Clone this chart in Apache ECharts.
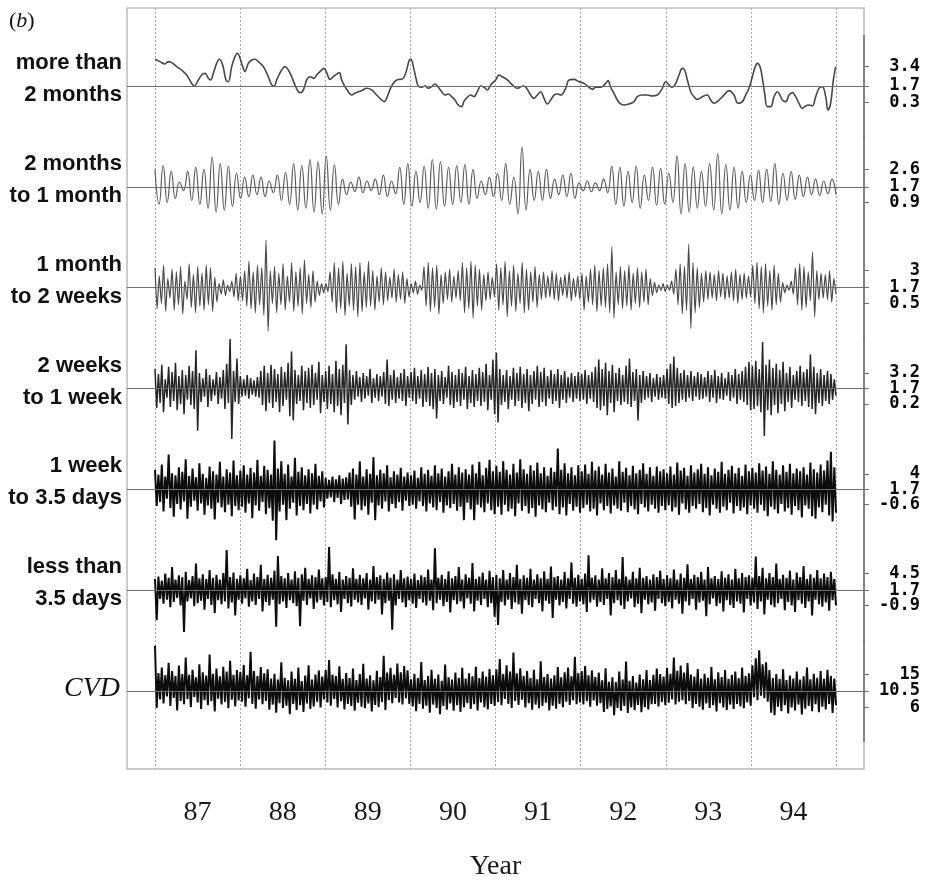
<!DOCTYPE html>
<html><head><meta charset="utf-8">
<script src="https://cdn.jsdelivr.net/npm/echarts@6/dist/echarts.min.js"></script>
<style>html,body{margin:0;padding:0;background:#fff}#c{width:928px;height:880px}</style>
</head><body><div id="c"></div>
<script>
// ---------- data ----------
const yearLabels = ['87','88','89','90','91','92','93','94'];
const panelNames = [['more than','2 months'],['2 months','to 1 month'],['1 month','to 2 weeks'],['2 weeks','to 1 week'],['1 week','to 3.5 days'],['less than','3.5 days'],['CVD']];
const tickHi  = [3.4, 2.6, 3, 3.2, 4, 4.5, 15];
const tickMid = [1.7, 1.7, 1.7, 1.7, 1.7, 1.7, 10.5];
const tickLo  = [0.3, 0.9, 0.5, 0.2, -0.6, -0.9, 6];
const yMin = [-2.645, -0.898, -2.118, -3.193, -5.822, -6.842, -3.23];
const yMax = [6.045, 4.298, 5.518, 6.593, 9.222, 10.242, 24.23];

// more than 2 months: [year, value]
const p1 = [[1987.000,4.00],[1987.059,3.80],[1987.117,3.60],[1987.157,3.80],[1987.196,3.71],[1987.255,3.37],[1987.313,3.08],[1987.372,2.65],[1987.431,1.93],[1987.462,1.70],[1987.509,2.22],[1987.548,2.65],[1987.587,2.79],[1987.627,2.36],[1987.654,2.22],[1987.685,2.79],[1987.724,3.65],[1987.756,4.00],[1987.795,3.51],[1987.834,2.22],[1987.861,2.07],[1987.901,3.37],[1987.940,4.23],[1987.967,4.52],[1987.999,4.09],[1988.030,3.37],[1988.057,2.94],[1988.096,3.65],[1988.136,3.94],[1988.175,4.00],[1988.214,3.80],[1988.273,3.37],[1988.331,2.50],[1988.371,1.79],[1988.398,1.70],[1988.437,2.36],[1988.488,3.08],[1988.527,3.37],[1988.566,3.08],[1988.605,2.50],[1988.645,1.79],[1988.684,1.21],[1988.715,1.13],[1988.750,1.50],[1988.782,2.22],[1988.821,2.50],[1988.868,2.36],[1988.899,2.65],[1988.938,2.94],[1988.958,3.08],[1988.985,3.22],[1989.017,2.85],[1989.056,2.27],[1989.095,2.50],[1989.134,2.73],[1989.165,2.85],[1989.193,2.22],[1989.232,1.64],[1989.271,1.21],[1989.310,0.92],[1989.349,1.07],[1989.389,1.21],[1989.428,1.30],[1989.487,1.50],[1989.545,1.36],[1989.604,0.92],[1989.663,0.49],[1989.694,0.35],[1989.721,0.64],[1989.761,1.41],[1989.800,1.93],[1989.839,2.22],[1989.878,2.27],[1989.917,2.36],[1989.956,3.08],[1989.988,3.94],[1990.007,4.00],[1990.035,3.37],[1990.066,2.36],[1990.093,1.70],[1990.133,1.59],[1990.172,1.70],[1990.211,1.50],[1990.250,1.64],[1990.289,1.87],[1990.328,1.59],[1990.368,1.21],[1990.407,0.92],[1990.446,1.01],[1990.485,0.78],[1990.524,0.49],[1990.563,0.06],[1990.603,-0.08],[1990.630,0.40],[1990.669,0.72],[1990.708,0.92],[1990.747,0.78],[1990.787,1.21],[1990.826,1.70],[1990.865,1.59],[1990.904,1.36],[1990.943,1.79],[1991.002,2.22],[1991.041,2.65],[1991.080,2.50],[1991.139,2.22],[1991.198,1.79],[1991.257,1.50],[1991.296,1.64],[1991.335,1.70],[1991.374,1.41],[1991.413,0.92],[1991.452,0.64],[1991.491,0.92],[1991.531,1.21],[1991.570,0.64],[1991.609,0.15],[1991.648,0.49],[1991.687,0.92],[1991.726,1.01],[1991.766,0.92],[1991.824,1.50],[1991.863,2.22],[1991.922,2.27],[1991.981,2.07],[1992.040,1.93],[1992.098,1.59],[1992.138,1.41],[1992.177,1.59],[1992.235,1.59],[1992.294,1.93],[1992.322,2.16],[1992.353,1.59],[1992.392,1.07],[1992.431,0.49],[1992.470,0.15],[1992.510,0.06],[1992.568,0.15],[1992.627,0.35],[1992.666,0.78],[1992.725,0.92],[1992.784,0.92],[1992.842,0.84],[1992.901,0.92],[1992.960,1.50],[1992.999,2.07],[1993.038,1.79],[1993.077,1.59],[1993.117,1.93],[1993.156,2.65],[1993.195,3.22],[1993.222,3.08],[1993.254,2.22],[1993.293,1.21],[1993.332,0.78],[1993.371,0.55],[1993.430,0.78],[1993.489,0.92],[1993.528,0.49],[1993.567,0.21],[1993.626,0.49],[1993.684,0.92],[1993.743,1.30],[1993.802,0.92],[1993.849,0.21],[1993.900,0.35],[1993.939,0.92],[1993.978,1.50],[1994.017,2.50],[1994.045,3.22],[1994.076,3.65],[1994.107,3.37],[1994.135,2.36],[1994.162,1.07],[1994.193,-0.08],[1994.233,-0.08],[1994.272,0.78],[1994.311,1.21],[1994.342,0.92],[1994.370,0.49],[1994.409,0.35],[1994.448,0.92],[1994.487,1.13],[1994.526,0.78],[1994.565,0.21],[1994.604,-0.23],[1994.643,-0.02],[1994.683,0.06],[1994.722,-0.02],[1994.761,0.78],[1994.800,1.50],[1994.839,1.64],[1994.879,0.78],[1994.906,-0.37],[1994.937,0.21],[1994.969,2.22],[1994.996,3.37]];

// 2 months to 1 month (evenly spaced in time)
const p2 = [2.6,0.8,2.8,0.9,2.5,1.1,1.95,1.5,2.5,1.0,2.7,0.8,2.6,0.6,3.25,0.4,2.9,0.5,2.75,0.7,2.4,1.1,2.2,1.2,2.3,1.3,2.2,1.2,2.0,1.4,2.3,1.0,2.45,0.8,2.9,0.5,2.8,0.6,3.1,0.4,3.0,0.3,3.3,0.5,2.85,0.8,2.1,1.3,1.95,1.45,2.2,1.4,2.0,1.5,2.1,1.3,2.3,1.2,2.0,1.35,2.7,0.8,2.9,0.7,2.5,0.9,2.75,0.6,3.1,0.55,3.0,0.7,2.7,0.8,
2.8,0.9,2.85,0.8,2.6,1.1,2.0,1.3,2.2,1.2,2.4,1.0,2.9,0.8,2.2,0.3,3.75,0.5,2.6,1.0,2.5,1.0,2.6,1.1,2.1,1.3,2.3,1.2,2.4,1.1,1.9,1.5,2.0,1.45,1.9,1.5,2.1,1.4,2.75,0.8,2.7,0.7,2.5,0.9,2.75,0.6,2.3,1.0,2.7,0.75,2.65,0.8,2.4,0.9,3.3,0.3,2.9,0.4,2.7,0.6,2.5,0.7,2.9,0.5,3.4,0.3,2.85,0.5,2.7,0.6,2.5,0.9,2.3,1.0,2.55,0.9,2.6,0.95,2.9,0.8,2.4,1.0,2.5,1.05,2.3,1.2,2.2,1.3,2.1,1.25,2.0,1.35,2.1,1.3];

// 1 month to 2 weeks
const p3 = [3.2,0.1,2.6,0.5,3.4,-0.1,2.4,0.9,3.1,0.0,2.9,0.4,3.3,-0.3,2.2,0.8,3.5,0.2,2.7,-0.2,3.3,0.3,2.8,0.0,3.4,0.4,3.2,-0.1,2.5,0.6,2.0,1.2,2.3,1.1,1.9,1.4,2.2,1.0,2.8,0.7,
2.6,0.7,3.0,0.3,3.7,0.1,2.9,-0.2,3.4,0.4,3.2,-0.4,5.3,-1.6,3.0,0.5,3.3,-0.2,2.8,0.4,3.5,0.0,2.6,0.6,3.6,-0.1,2.9,0.3,3.2,-0.3,3.8,0.5,2.7,0.2,3.0,0.6,2.2,1.1,2.0,1.3,
2.0,1.4,2.9,0.6,3.6,-0.2,3.2,0.1,3.7,-0.4,2.8,0.3,3.5,0.0,3.3,-0.5,3.6,-0.1,2.9,0.2,3.7,0.3,3.0,0.0,2.6,0.6,3.2,0.4,2.9,0.7,2.5,0.9,3.1,0.6,2.7,0.8,2.9,0.5,2.4,1.0,
2.0,1.3,2.2,1.2,1.9,1.5,3.3,0.3,3.6,-0.1,3.2,0.2,3.4,-0.3,2.7,0.5,2.9,0.8,3.1,0.6,2.6,0.9,3.0,0.7,3.6,-0.2,3.2,0.1,3.7,-0.6,3.4,0.3,3.1,0.0,2.7,0.7,2.9,0.8,2.5,1.0,
3.5,0.0,3.2,0.4,3.7,-0.5,3.0,0.3,3.4,-0.1,2.8,0.5,3.6,-0.2,3.1,0.0,2.9,0.6,3.3,0.2,2.7,0.8,2.9,0.9,2.6,1.0,3.0,0.8,2.8,0.7,2.5,1.1,2.7,0.9,2.9,0.7,2.4,1.0,2.6,0.8,
2.8,0.0,2.6,0.6,3.1,0.4,3.4,-0.1,3.0,0.3,3.2,0.2,3.5,-0.2,4.8,-0.6,2.9,0.4,3.3,0.1,3.0,0.3,3.4,0.0,2.8,0.5,3.2,0.2,2.9,0.6,3.1,0.4,2.4,1.1,2.1,1.3,1.9,1.5,2.0,1.4,
1.9,1.5,2.2,1.2,3.1,0.4,3.5,-0.3,3.3,0.0,5.0,-1.4,3.6,-0.2,3.2,0.2,2.8,0.6,3.0,0.8,2.9,0.9,2.7,0.7,3.0,1.0,2.8,0.8,2.6,0.9,2.9,0.7,3.1,0.5,2.7,0.8,2.8,0.9,2.6,1.0,
3.4,0.5,3.6,0.1,3.3,-0.2,3.5,0.3,3.0,0.0,3.4,0.4,2.8,0.6,2.1,1.3,1.9,1.5,2.2,1.2,3.2,0.4,3.5,0.0,3.3,0.2,2.9,0.7,4.4,-0.5,3.0,0.8,2.8,0.9,2.7,0.8,3.0,0.6,2.4,1.2];

// 2 weeks to 1 week
const p4 = [3.6,-0.2,3.1,0.3,4.0,-0.6,2.6,0.8,3.8,-0.1,3.3,0.5,4.2,-0.4,2.9,0.2,3.5,-0.8,3.0,0.6,3.9,0.1,3.4,-0.3,5.4,-2.4,3.2,0.4,2.7,0.9,3.6,-0.1,3.0,0.5,2.6,1.0,3.3,0.2,2.8,0.7,3.5,-0.3,4.1,0.3,6.5,-3.2,3.4,0.4,4.6,0.2,
2.9,0.9,2.6,1.0,3.0,0.7,2.7,1.1,2.5,0.9,2.8,0.8,3.4,0.1,3.9,-0.5,3.2,0.3,4.0,-0.2,3.6,0.4,3.1,-0.6,3.8,0.0,3.3,0.6,4.2,-1.0,5.3,-1.4,3.5,0.2,3.0,0.5,3.9,-0.4,3.4,0.3,3.7,-0.2,4.0,0.1,3.2,0.6,4.3,-0.7,3.0,0.4,
3.4,-0.3,3.9,0.2,3.1,-0.6,4.4,0.0,3.6,-0.9,4.0,0.3,6.0,-1.8,3.5,0.1,3.0,0.6,3.4,0.9,2.8,0.4,3.2,0.7,2.9,1.0,3.6,0.3,2.7,0.8,3.1,0.5,2.9,0.9,3.3,0.2,4.5,0.0,3.0,0.6,3.5,0.3,2.8,0.7,3.2,0.5,3.6,0.0,2.9,0.8,
3.3,0.5,3.7,0.2,2.9,0.7,3.5,-0.1,3.1,0.4,3.8,0.0,3.2,-0.3,3.6,-1.2,3.0,0.5,3.4,0.2,2.8,0.8,3.9,0.1,3.3,-0.2,3.0,0.4,3.6,0.0,3.2,0.6,3.8,-0.3,2.9,0.3,3.5,-0.1,3.1,0.5,3.7,0.0,3.3,0.4,4.1,-0.4,3.0,0.6,4.5,-0.8,
5.2,-1.6,3.6,0.1,3.0,0.4,3.5,-0.3,2.9,0.6,3.7,0.0,3.2,0.5,3.8,-0.2,3.1,0.3,3.6,-0.5,3.0,0.2,3.4,0.6,3.9,-0.1,3.3,0.4,3.7,0.0,2.9,0.7,3.5,0.2,3.1,0.5,3.6,-0.2,3.0,0.6,3.4,0.3,2.8,0.8,3.2,0.4,2.9,0.7,3.3,0.5,
3.1,0.6,3.5,0.2,3.0,0.7,3.3,0.4,3.8,-0.2,4.5,-0.4,3.6,0.0,4.2,-0.9,3.4,0.3,4.0,-0.6,3.2,0.5,3.7,0.1,3.0,0.4,3.9,0.2,4.6,-0.1,3.3,0.5,3.6,-1.4,3.0,0.3,3.4,0.6,2.9,0.8,3.2,0.4,2.7,0.9,3.1,0.6,2.8,0.8,3.0,0.7,
3.6,0.2,4.1,-0.2,4.8,0.0,3.7,0.3,3.2,0.6,3.5,0.4,3.0,0.8,3.4,0.5,2.9,0.9,3.3,0.6,3.1,0.7,2.8,0.9,3.4,0.4,3.0,0.8,3.5,0.3,2.9,0.7,3.2,0.6,2.7,1.0,3.3,0.5,3.0,0.8,3.6,0.2,3.1,0.6,3.4,0.4,3.8,0.1,4.3,-0.4,
3.9,-0.3,4.4,0.0,3.6,-0.6,6.2,-2.9,4.0,-0.4,4.5,-0.9,3.7,0.1,4.1,-0.7,3.5,0.2,4.3,-0.5,3.2,0.4,3.8,-0.2,3.0,0.6,3.4,0.4,3.9,0.0,3.3,0.5,3.6,-0.1,5.0,-0.3,3.8,-0.8,3.2,0.3,3.6,0.0,3.0,0.5,3.4,0.2,3.1,0.6,2.6,1.0];

// 1 week to 3.5 days
const p5 = [4.6,-0.8,3.9,-0.2,5.4,-1.6,3.6,0.3,6.9,-1.1,4.1,-2.4,3.8,-0.5,5.0,-1.3,4.3,-0.1,6.2,-2.7,3.7,-0.9,4.8,0.0,3.5,-1.5,5.6,-0.4,4.0,-2.1,3.4,-0.7,5.1,-1.2,4.4,-2.8,3.9,-0.3,5.8,-1.0,3.6,-1.7,4.7,-0.6,4.2,-2.3,6.0,-0.8,3.8,-1.4,
4.5,-0.9,5.3,-1.8,3.9,-0.4,4.9,-2.6,4.2,-0.7,6.1,-1.5,3.7,-0.2,5.2,-2.0,4.6,-1.1,3.9,-3.0,9.0,-5.9,4.8,-1.6,5.9,-0.6,4.0,-2.9,5.4,-1.2,3.6,-0.3,6.4,-2.2,4.3,-0.8,5.0,-1.4,3.8,-0.5,4.7,-1.9,4.1,-0.6,5.5,-1.3,3.7,-0.1,4.4,-1.0,
3.4,0.3,3.1,0.5,3.6,-0.2,3.2,0.4,3.8,-0.5,3.3,0.1,3.5,0.2,4.2,-0.9,4.8,-2.8,3.9,-0.6,5.9,-1.4,3.6,-0.8,4.7,-2.1,4.0,-0.3,6.5,-2.9,3.8,-0.7,4.6,-1.2,4.1,-0.1,5.3,-1.6,3.5,-0.5,4.4,-1.1,3.9,-0.2,4.9,-1.5,3.6,0.0,4.2,-0.8,
3.8,-0.6,4.5,-1.2,3.4,-0.1,5.0,-0.8,4.0,-1.6,4.6,-0.4,3.7,-1.0,5.3,-1.4,4.1,-0.2,4.8,-1.8,3.6,-0.7,4.4,-1.1,5.5,-0.5,3.9,-1.5,5.0,-0.9,4.2,-2.9,4.7,-0.3,3.9,-1.3,5.4,-2.9,4.1,-0.6,5.8,-1.0,3.8,-1.7,4.9,-0.4,6.1,-1.4,4.4,-2.0,
5.2,-0.9,4.3,-2.1,5.9,-0.6,4.6,-1.6,3.9,-1.2,5.5,-2.3,4.2,-0.4,6.2,-1.5,4.7,-0.8,4.0,-1.9,5.3,-1.1,4.5,-2.4,5.7,-0.7,4.1,-1.3,5.0,-1.7,3.7,-0.3,4.9,-1.4,4.3,-0.9,7.8,-2.0,4.6,-1.0,5.6,-2.2,4.1,-0.5,5.0,-1.5,3.8,-0.9,5.3,-1.8,
4.4,-1.1,5.4,-0.6,4.0,-1.6,5.8,-1.2,4.5,-2.2,5.1,-0.4,3.9,-1.4,5.5,-0.8,4.2,-1.9,4.8,-0.7,3.6,-1.2,5.9,-1.5,4.3,-0.3,4.9,-1.7,3.8,-0.8,5.2,-1.3,4.1,-2.0,4.6,-0.5,5.6,-1.0,4.0,-1.6,5.0,-0.6,3.7,-1.2,5.1,-1.8,4.4,-0.8,4.7,-1.4,
4.1,-0.7,5.1,-1.6,3.9,-1.0,5.7,-2.1,4.5,-0.4,4.9,-1.3,3.7,-1.8,5.3,-0.8,4.2,-1.2,4.7,-0.5,5.5,-1.7,4.0,-1.1,5.0,-2.2,3.8,-0.6,4.8,-1.2,4.3,-1.8,5.8,-0.9,4.0,-1.4,4.6,-0.3,5.2,-1.9,4.1,-0.8,4.9,-1.5,3.7,-1.0,5.4,-2.0,4.4,-0.7,
4.9,-1.2,4.2,-1.8,5.6,-0.6,4.5,-1.5,5.1,-2.3,4.0,-0.9,5.9,-1.3,4.6,-1.9,3.9,-0.5,5.3,-1.6,4.3,-1.1,5.5,-2.1,4.1,-0.8,4.8,-1.4,4.4,-2.5,5.0,-0.7,3.9,-1.2,5.7,-2.3,4.7,-2.7,4.2,-1.0,5.4,-1.7,4.5,-0.6,6.0,-2.2,7.3,-3.1,5.0,-1.8];

// less than 3.5 days
const p6 = [3.6,-3.4,4.0,0.2,3.3,-0.6,4.5,0.1,3.8,-1.2,5.6,-0.3,3.5,0.4,4.2,-0.9,3.9,-5.4,4.8,-0.2,3.4,0.3,4.1,-1.0,6.2,-0.5,3.7,-0.1,4.4,-1.6,3.6,0.2,5.1,-0.8,3.8,-2.2,4.3,0.0,3.5,-0.7,4.6,-0.2,8.5,-1.4,3.9,-0.4,4.7,-2.6,3.6,0.1,
4.2,-0.6,3.7,0.3,5.3,-1.1,3.4,-0.2,4.5,-0.8,3.9,0.2,6.0,-1.9,3.6,-0.3,4.3,-0.9,3.8,0.1,5.0,-4.5,7.5,-0.7,4.1,-0.2,3.7,-1.3,4.6,0.0,3.5,-0.5,4.9,-1.0,3.8,-4.4,4.4,-0.1,5.5,-0.8,3.6,0.3,4.2,-1.5,3.9,-0.4,5.2,0.1,3.7,-0.9,
3.9,-0.3,9.0,-1.2,4.4,0.0,3.6,-0.7,4.8,-2.0,3.5,0.2,4.1,-0.5,3.8,-1.1,5.4,0.1,3.6,-0.4,4.3,-0.8,3.7,0.3,4.6,-1.6,3.5,-0.2,5.8,-0.6,3.9,0.1,4.2,-2.4,3.6,-0.5,4.7,-0.1,3.8,-5.0,4.4,-0.9,3.5,0.2,5.1,-0.4,3.7,-1.2,4.0,0.0,
3.6,-0.6,4.5,-1.3,3.4,0.2,4.2,-0.4,3.9,-0.9,5.2,-0.1,3.5,-1.7,8.8,-0.5,3.8,0.1,4.3,-1.0,3.6,-0.3,4.9,-2.1,3.7,0.0,4.1,-0.7,5.6,-0.2,3.5,-1.4,4.4,0.3,3.8,-0.6,6.3,-1.9,3.6,-0.1,4.0,-0.8,4.7,0.2,3.5,-1.2,5.0,-0.5,3.9,-2.8,
4.3,-4.2,3.7,-0.3,5.1,-0.9,3.5,0.1,4.6,-1.5,3.9,-0.4,6.0,-0.7,3.6,-2.3,4.2,0.0,3.8,-0.8,5.3,-1.2,3.5,0.2,4.4,-0.5,3.7,-1.9,4.9,-0.1,3.6,-0.6,5.7,-3.0,3.9,0.1,4.1,-0.9,3.5,-0.3,4.8,-1.4,3.7,0.2,6.4,-0.6,3.8,-1.1,4.3,-0.2,
3.6,-0.7,4.5,-2.0,7.6,-0.4,3.8,0.1,4.2,-1.1,3.5,-0.3,5.4,-0.8,3.7,0.2,4.6,-2.6,3.9,-0.5,5.1,0.0,3.6,-0.9,7.3,-1.5,4.0,-0.2,3.5,0.3,4.8,-1.2,3.7,-0.6,5.5,-2.2,3.8,0.1,4.1,-0.7,3.5,-0.4,4.4,-1.8,3.9,0.2,5.0,-0.5,3.6,-1.0,
4.2,-0.3,3.7,-1.4,5.2,0.1,3.5,-0.6,4.5,-2.3,3.8,-0.2,6.1,-0.9,3.6,0.2,4.3,-1.6,3.9,-0.4,4.8,-0.1,3.5,-2.7,5.6,-0.7,3.7,0.3,4.1,-1.0,3.6,-0.5,4.9,-1.9,3.8,0.0,4.4,-0.8,3.5,-1.3,5.3,-0.2,3.7,-0.6,4.6,-2.1,3.9,0.2,4.2,-0.9,
3.8,-0.4,7.4,-1.5,4.1,-0.2,5.5,-2.4,3.7,0.1,4.6,-0.8,3.9,-1.2,6.2,-0.5,3.6,0.2,4.3,-1.7,3.8,-0.3,5.0,-0.9,3.5,-2.0,4.7,0.0,3.9,-0.6,5.8,-1.3,3.6,-0.2,4.4,-2.6,3.8,0.1,5.1,-0.7,3.7,-1.1,4.5,-0.4,3.9,-1.8,4.8,0.0,3.6,-0.9];

// CVD
const p7 = [22.8,5.9,15.4,8.2,16.9,7.1,14.8,9.0,18.2,6.4,15.9,8.6,14.6,5.2,17.4,7.8,15.1,6.9,19.6,8.3,14.9,6.1,16.3,8.9,14.2,7.4,17.8,5.6,15.6,8.0,14.7,6.6,20.4,7.7,15.2,4.9,16.6,8.4,14.5,6.8,17.1,7.5,15.8,5.8,18.7,8.1,14.9,6.3,16.2,7.9,
15.7,7.6,17.6,6.2,14.8,8.5,21.2,7.0,15.9,5.7,14.6,8.2,17.0,6.9,15.3,7.8,16.4,5.4,13.9,6.8,15.2,4.6,13.6,7.2,18.3,5.9,14.1,6.5,13.4,4.2,15.8,7.0,13.8,5.3,16.9,6.6,13.2,4.8,14.7,7.1,17.5,5.6,13.6,6.3,15.0,7.6,16.1,6.0,14.4,8.2,
16.2,7.4,18.9,6.5,15.0,8.3,14.6,6.0,17.2,7.7,13.8,5.5,15.4,7.0,14.0,6.4,16.6,5.1,13.5,7.3,15.1,6.2,17.9,5.8,13.9,7.1,14.8,4.9,13.4,6.7,16.0,6.1,14.3,7.5,20.1,5.3,15.5,8.0,16.8,7.2,14.9,8.6,18.0,7.4,15.6,6.8,17.3,8.5,16.1,7.0,
13.7,6.3,15.2,5.0,14.0,7.0,18.4,5.7,13.5,6.5,14.6,4.6,16.3,6.8,13.8,5.9,15.0,4.2,13.3,6.4,17.7,5.4,14.2,7.1,13.6,5.1,15.5,6.6,14.1,4.8,16.8,6.0,13.9,7.2,15.3,5.6,14.5,6.9,17.1,5.2,14.0,7.4,15.8,6.1,14.4,5.5,16.5,7.0,14.8,6.4,
16.4,7.5,19.2,6.6,15.1,8.3,17.5,7.0,15.8,5.9,21.0,7.8,15.3,6.7,16.7,8.1,14.6,6.0,15.9,7.2,14.0,5.4,16.3,6.8,13.7,5.8,18.6,6.4,14.3,7.3,15.1,5.2,13.9,6.5,14.8,5.7,17.0,7.0,14.2,6.1,15.6,7.6,16.9,6.7,14.5,7.9,19.8,6.9,15.4,7.4,
15.9,6.8,17.3,7.7,14.8,6.2,16.1,7.9,14.3,6.5,15.5,7.2,13.4,4.8,16.7,5.6,13.0,6.3,14.2,3.9,12.9,5.9,15.8,5.1,13.6,6.4,18.5,4.5,13.3,6.0,14.6,5.3,12.8,6.7,15.0,4.7,13.7,6.1,16.2,5.5,13.5,6.9,14.9,7.0,16.6,6.3,15.1,7.5,14.4,6.6,
16.8,7.3,15.2,8.2,19.6,6.8,16.0,7.6,17.4,8.0,15.5,6.9,18.1,7.8,15.0,5.8,14.4,7.0,16.5,6.2,13.9,5.4,15.2,7.1,14.1,5.9,17.0,6.6,13.7,4.9,15.6,7.2,14.3,6.0,16.2,5.3,13.8,6.8,14.9,5.6,15.8,7.0,14.0,6.3,16.9,5.8,14.6,7.4,15.3,6.5,
17.5,8.8,19.4,8.0,21.6,9.2,17.8,8.5,18.3,7.6,16.2,4.6,14.0,3.9,15.1,6.2,13.8,5.0,16.4,6.6,13.5,4.4,14.7,6.0,13.9,5.2,15.8,6.8,13.6,4.1,14.5,5.7,16.9,6.4,13.7,5.0,15.2,6.9,14.1,4.7,15.9,6.2,13.8,5.5,16.3,7.0,14.6,4.5,13.9,6.6];

// ---------- layout (pixels) ----------
const FRAME = {x: 127, y: 8, w: 737, h: 761};
const X0 = 155, X1 = 836;          // 1987.0 .. 1995.0
const BASE0 = 86, STEP = 100.83;   // panel baselines
const PANEL_H = 100.8;
const pxPerYear = (X1 - X0) / 8;
const panelXMin = 1987 - (X0 - FRAME.x) / pxPerYear;
const panelXMax = 1995 + (FRAME.x + FRAME.w - X1) / pxPerYear;

const evenly = vals => vals.map((v, i) => [1987 + 8 * i / (vals.length - 1), v]);
const seriesData = [p1, evenly(p2), evenly(p3), evenly(p4), evenly(p5), evenly(p6), evenly(p7)];
const lineStyles = [
  {color: '#474747', width: 1.6},
  {color: '#5c5c5c', width: 1.2},
  {color: '#4a4a4a', width: 1.2},
  {color: '#262626', width: 1.5},
  {color: '#0d0d0d', width: 2.0},
  {color: '#0d0d0d', width: 2.0},
  {color: '#0d0d0d', width: 2.0}
];
const smoothing = [0.4, 0.5, 0.2, false, false, false, false];

const labelStyle = {align: 'right', margin: 56, interval: 0, hideOverlap: false,
  fontFamily: '"DejaVu Sans Mono", monospace', fontWeight: 'bold', fontSize: 17, color: '#0a0a0a',
  formatter: v => String(v)};

const grids = [{left: X0, top: FRAME.y, width: X1 - X0, height: FRAME.h}];
const xAxes = [
  {type: 'value', gridIndex: 0, min: 1987, max: 1995, interval: 1,
   axisLine: {show: false}, axisTick: {show: false}, axisLabel: {show: false},
   splitLine: {show: true, lineStyle: {type: [2, 2], color: '#a8a8a8', width: 1}}},
  {type: 'category', gridIndex: 0, data: yearLabels, boundaryGap: true, position: 'bottom',
   axisLine: {show: false}, axisTick: {show: false}, splitLine: {show: false},
   axisLabel: {margin: 30, fontSize: 28, lineHeight: 28, fontFamily: '"Liberation Serif", serif', color: '#1a1a1a'}}
];
const yAxes = [{type: 'value', gridIndex: 0, min: 0, max: 1, show: false}];
const series = [];

for (let i = 0; i < 7; i++) {
  const base = BASE0 + i * STEP;
  grids.push({left: FRAME.x, top: base - PANEL_H / 2, width: FRAME.w, height: PANEL_H});
  xAxes.push({type: 'value', gridIndex: i + 1, min: panelXMin, max: panelXMax, show: false});
  const outer = [tickLo[i], tickHi[i]];
  const yIdx = yAxes.length;
  // axis with the outer (low / high) ticks and the axis line
  yAxes.push({
    type: 'value', gridIndex: i + 1, position: 'right', offset: 0, min: yMin[i], max: yMax[i],
    axisLine: {show: true, lineStyle: {color: '#6e6e6e', width: 1.5}},
    axisTick: {show: true, length: 5, inside: false, customValues: outer, lineStyle: {color: '#6e6e6e', width: 1}},
    axisLabel: Object.assign({customValues: outer}, labelStyle),
    splitLine: {show: false}
  });
  // companion axis carrying the middle (mean) tick and label
  yAxes.push({
    type: 'value', gridIndex: i + 1, position: 'right', offset: 0, min: yMin[i], max: yMax[i],
    axisLine: {show: false},
    axisTick: {show: true, length: 5, inside: false, customValues: [tickMid[i]], lineStyle: {color: '#6e6e6e', width: 1}},
    axisLabel: Object.assign({customValues: [tickMid[i]]}, labelStyle),
    splitLine: {show: false}
  });
  series.push({
    type: 'line', xAxisIndex: i + 2, yAxisIndex: yIdx, data: seriesData[i],
    symbol: 'none', showSymbol: false, smooth: smoothing[i], clip: false, animation: false,
    lineStyle: lineStyles[i], z: 3,
    markLine: {silent: true, symbol: 'none', animation: false, label: {show: false},
      lineStyle: {color: '#6e6e6e', type: 'solid', width: 1}, data: [{yAxis: tickMid[i]}]}
  });
}

const graphics = [
  {type: 'rect', silent: true, z: 0, shape: {x: FRAME.x, y: FRAME.y, width: FRAME.w, height: FRAME.h},
   style: {fill: 'none', stroke: '#bcbcbc', lineWidth: 1.5}},
  {type: 'text', silent: true, style: {text: '{p|(}{i|b}{p|)}', x: 9, y: 21, verticalAlign: 'middle',
    rich: {p: {font: '22px "Liberation Serif"', fill: '#111'}, i: {font: 'italic 22px "Liberation Serif"', fill: '#111'}}}},
  {type: 'text', silent: true, style: {text: 'Year', x: (X0 + X1) / 2, y: 867, align: 'center', verticalAlign: 'middle',
    font: '28px "Liberation Serif"', fill: '#1a1a1a'}}
];
panelNames.forEach((lines, i) => {
  const base = BASE0 + i * STEP;
  if (lines.length > 1) {
    graphics.push({type: 'text', silent: true, style: {text: lines.join('\n'), x: 122, y: base - 7,
      align: 'right', verticalAlign: 'middle', lineHeight: 32, font: 'bold 22px "Liberation Sans"', fill: '#111'}});
  } else {
    graphics.push({type: 'text', silent: true, style: {text: lines[0], x: 120, y: base - 2,
      align: 'right', verticalAlign: 'middle', font: 'italic 28px "Liberation Serif"', fill: '#111'}});
  }
});

const chart = echarts.init(document.getElementById('c'), null, {renderer: 'canvas'});
chart.setOption({
  animation: false,
  backgroundColor: '#fff',
  grid: grids, xAxis: xAxes, yAxis: yAxes, series: series, graphic: graphics
});
</script></body></html>
